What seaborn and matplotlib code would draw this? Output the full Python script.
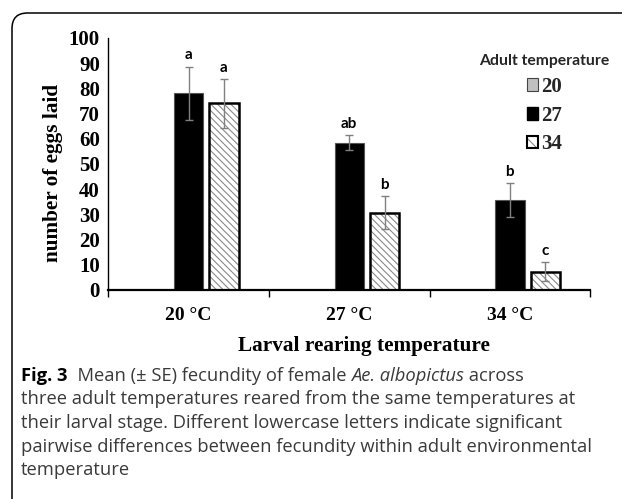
import numpy as np
import pandas as pd
import matplotlib
matplotlib.use("Agg")
import matplotlib.pyplot as plt
import seaborn as sns
from matplotlib.patches import Patch, FancyBboxPatch
from matplotlib.colors import to_rgba

# data (adult 20 series has no bars)
larval = ["20 °C", "27 °C", "34 °C"]
adult = ["20", "27", "34"]
mean_20 = [0, 0, 0]
se_20 = [0, 0, 0]
mean_27 = [78, 58.5, 35.7]
se_27 = [10.6, 2.9, 6.6]
mean_34 = [74, 30.7, 7.3]
se_34 = [9.7, 6.6, 3.7]
letters_20 = ["", "", ""]
letters_27 = ["a", "ab", "b"]
letters_34 = ["a", "b", "c"]

df = pd.DataFrame({
    "larval": larval * 3,
    "adult": ["20"] * 3 + ["27"] * 3 + ["34"] * 3,
    "eggs": mean_20 + mean_27 + mean_34,
    "se": se_20 + se_27 + se_34,
    "letter": letters_20 + letters_27 + letters_34,
})

sns.set_theme(style="white")
plt.rcParams["hatch.linewidth"] = 0.8
serif = "Liberation Serif"
sans_b = "Lato"
hatch_col = to_rgba("#8a8a8a")

fig = plt.figure(figsize=(6.22, 4.99), dpi=100)
ax = fig.add_axes([0.174, 0.419, 0.775, 0.505])

sns.barplot(data=df, x="larval", y="eggs", hue="adult", hue_order=adult,
            order=larval, width=0.66, gap=0.17, dodge=True, errorbar=None,
            ax=ax, palette={"20": "#c0c0c0", "27": "black", "34": "white"},
            legend=False)

for cont, lvl in zip(ax.containers, adult):
    sub = df[df["adult"] == lvl].set_index("larval").loc[larval]
    for bar, (_, row) in zip(cont.patches, sub.iterrows()):
        if lvl == "20":
            bar.set_visible(False)
            continue
        if lvl == "34":
            bar.set_facecolor("white")
            bar.set_edgecolor("black")
            bar.set_linewidth(1.8)
            bar.set_hatch("\\\\\\\\\\")
            bar._hatch_color = hatch_col
        else:
            bar.set_edgecolor("#555555")
            bar.set_linewidth(0.8)
        xc = bar.get_x() + bar.get_width() / 2
        ax.errorbar(xc, row["eggs"], yerr=row["se"], color="#808080",
                    lw=1, capsize=3, capthick=1, zorder=5)
        ax.annotate(row["letter"], (xc, row["eggs"] + row["se"]),
                    xytext=(0, 3), textcoords="offset points",
                    ha="center", va="bottom", fontsize=11,
                    fontweight="bold", family=sans_b, color="black")

ax.set_ylim(0, 100)
ax.set_xlim(-0.5, 2.5)
ax.set_yticks(range(0, 101, 10))
ax.set_xticks([-0.5, 0.5, 1.5, 2.5], minor=True)
ax.tick_params(axis="x", which="major", length=0, pad=12)
ax.tick_params(axis="x", which="minor", length=5, width=1, color="black",
               direction="out", bottom=True)
ax.tick_params(axis="y", length=0, pad=6)
for lab in ax.get_xticklabels():
    lab.set_fontfamily(serif)
    lab.set_fontweight("bold")
    lab.set_fontsize(14)
    lab.set_color("black")
for lab in ax.get_yticklabels():
    lab.set_fontfamily(serif)
    lab.set_fontweight("bold")
    lab.set_fontsize(15)
    lab.set_color("black")

ax.set_xlabel("Larval rearing temperature", family=serif, fontweight="bold",
              fontsize=15.3, color="black", va="center")
ax.xaxis.set_label_coords((364 - 108) / 482, -(346 - 290) / 252)
ax.set_ylabel("number of eggs laid", family=serif, fontweight="bold",
              fontsize=15.3, color="black", va="center")
ax.yaxis.set_label_coords((53 - 108) / 482, (290 - 173.5) / 252)
sns.despine(ax=ax)
ax.spines["left"].set_color("black")
ax.spines["left"].set_linewidth(1)
ax.spines["bottom"].set_color("black")
ax.spines["bottom"].set_linewidth(1.6)
ax.set_facecolor("none")

h34 = Patch(facecolor="white", edgecolor="black", lw=1.5, hatch="\\\\\\",
            label="34")
h34._hatch_color = hatch_col
handles = [
    Patch(facecolor="#c0c0c0", edgecolor="#444444", lw=0.8, label="20"),
    Patch(facecolor="black", edgecolor="black", label="27"),
    h34,
]
leg = ax.legend(handles=handles, title="Adult temperature", frameon=False,
                loc="upper left", bbox_to_anchor=(0.731, 1.01),
                prop={"family": serif, "weight": "bold", "size": 15},
                title_fontproperties={"family": sans_b, "weight": "bold",
                                      "size": 11.3},
                handlelength=0.55, handleheight=0.55, handletextpad=0.15,
                labelspacing=0.42)

# frame around the figure
W, H = 622, 499
frame = FancyBboxPatch((12 / W, -0.05), 1.1, 1 - 13 / H + 0.05,
                       boxstyle="round,pad=0,rounding_size=0.025",
                       transform=fig.transFigure, fill=False,
                       edgecolor="black", lw=1.1, mutation_aspect=W / H)
fig.patches.append(frame)

# caption
cap_col = "#3a3a3a"
cap_fs = 13.2
renderer = fig.canvas.get_renderer()
x0 = 21 / W
y1 = 376
step = 23.5
pieces = [("Fig. 3", dict(fontweight="bold", color="black")),
          ("  Mean (± SE) fecundity of female ", dict(color=cap_col)),
          ("Ae. albopictus", dict(style="italic", color=cap_col)),
          (" across", dict(color=cap_col))]
x = x0
for txt, kw in pieces:
    t = fig.text(x, 1 - y1 / H, txt, family="Open Sans", fontsize=cap_fs,
                 va="center", ha="left", **kw)
    bb = t.get_window_extent(renderer)
    x = bb.x1 / W
rest = ["three adult temperatures reared from the same temperatures at",
        "their larval stage. Different lowercase letters indicate significant",
        "pairwise differences between fecundity within adult environmental",
        "temperature"]
for i, line in enumerate(rest):
    fig.text(x0, 1 - (y1 + step * (i + 1)) / H, line, family="Open Sans",
             fontsize=cap_fs, color=cap_col, va="center", ha="left")

fig.savefig("out.png", dpi=100)
